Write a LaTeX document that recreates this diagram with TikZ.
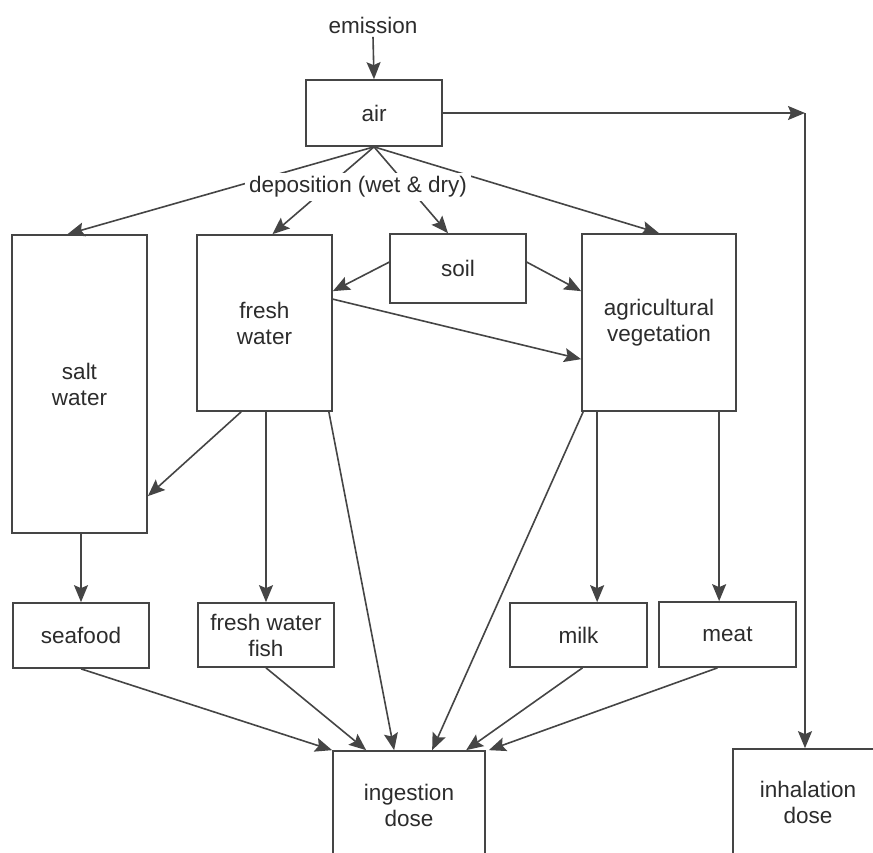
\documentclass[tikz,border=0pt]{standalone}
\usepackage{fontspec}
\setmainfont{Liberation Sans}
\usetikzlibrary{arrows.meta,calc}
\definecolor{linec}{HTML}{454545}
\definecolor{textc}{HTML}{2C2C2C}
\begin{document}
\begin{tikzpicture}[x=1pt,y=-1pt,
  every node/.style={font=\fontsize{22.5}{26}\selectfont, text=textc},
  bx/.style={draw=linec, line width=1.7pt, rectangle, align=center, inner sep=0pt},
  arr/.style={draw=linec, line width=1.6pt, -{Stealth[length=17pt,width=14pt,inset=3pt]}},
  ln/.style={draw=linec, line width=1.6pt}]
\useasboundingbox (0,0) rectangle (873,852);
\clip (0,0) rectangle (873,852);
\fill[white] (0,0) rectangle (873,852);
% nodes
\node (emis) at (373,25) {emission};
\node[bx, minimum width=136pt, minimum height=66pt] (air) at (374,113) {air};
\node[bx, minimum width=135pt, minimum height=298pt] (salt) at (79.5,384) {salt\\water};
\node[bx, minimum width=135pt, minimum height=176pt] (fresh) at (264.5,323) {fresh\\water};
\node[bx, minimum width=136pt, minimum height=69pt] (soil) at (458,268.5) {soil};
\node[bx, minimum width=154pt, minimum height=177pt] (agveg) at (659,322.5) {agricultural\\vegetation};
\node[bx, minimum width=136pt, minimum height=65pt] (seafood) at (81,635.5) {seafood};
\node[bx, minimum width=136pt, minimum height=64pt] (fish) at (266,635) {fresh water\\fish};
\node[bx, minimum width=137pt, minimum height=64pt] (milk) at (578.5,635) {milk};
\node[bx, minimum width=137pt, minimum height=65pt] (meat) at (727.5,634.5) {meat};
\node[bx, minimum width=152pt, minimum height=108pt] (ingest) at (409,805) {ingestion\\dose};
\node[bx, minimum width=150pt, minimum height=106pt] (inhal) at (808,802) {inhalation\\dose};
\coordinate (corner) at (805,113);
% connectors
\draw[arr] (emis.south) -- (air.north);
\draw[arr] (air.east) -- (corner);
\draw[arr] (corner) -- (corner |- inhal.north);
\draw[arr] (air.south) -- ($(salt.north)+(-12,0)$);
\draw[arr] (air.south) -- ($(fresh.north)+(8,0)$);
\draw[arr] (air.south) -- ($(soil.north)+(-10,0)$);
\draw[arr] (air.south) -- (agveg.north);
\node[fill=white, inner sep=4pt] (depo) at (358,187) {deposition (wet \& dry)};
\draw[arr] ($(soil.north west)+(0,29)$) -- ($(fresh.north east)+(0,57)$);
\draw[arr] ($(soil.north east)+(0,29)$) -- ($(agveg.north west)+(0,58)$);
\draw[arr] ($(fresh.north east)+(0,65)$) -- ($(agveg.north west)+(0,126)$);
\draw[arr] ($(fresh.south west)+(45,0)$) -- ($(salt.north east)+(0,262)$);
\draw[arr] (fish.north |- fresh.south) -- (fish.north);
\draw[arr] ($(fresh.south east)+(-4,0)$) -- ($(ingest.north west)+(62,0)$);
\draw[arr] (seafood.north |- salt.south) -- (seafood.north);
\draw[arr] (seafood.south) -- (ingest.north west);
\draw[arr] (fish.south) -- ($(ingest.north west)+(34,0)$);
\draw[arr] ($(agveg.south west)+(2,0)$) -- ($(ingest.north west)+(100,0)$);
\draw[arr] ($(agveg.south west)+(16,0)$) coordinate (a1) -- (a1 |- milk.north);
\draw[arr] ($(agveg.south west)+(138,0)$) coordinate (a2) -- (a2 |- meat.north);
\draw[arr] ($(milk.south)+(4,0)$) -- ($(ingest.north west)+(134,0)$);
\draw[arr] ($(meat.south)+(-10,0)$) -- ($(ingest.north east)+(3,0)$);
\end{tikzpicture}
\end{document}
